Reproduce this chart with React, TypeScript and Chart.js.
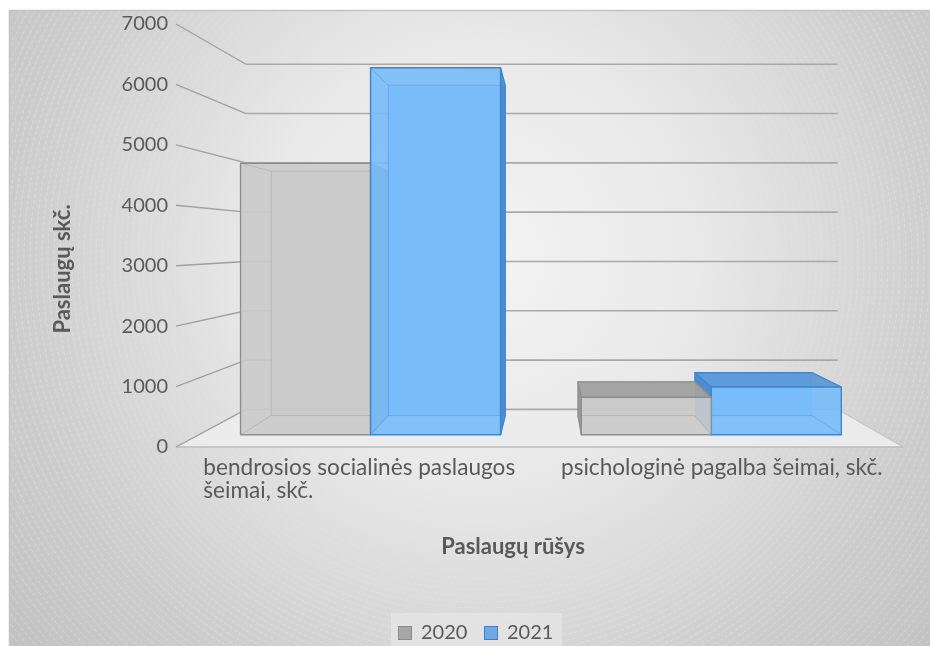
import { useEffect, useRef } from "react";
import { Chart, registerables } from "chart.js";

Chart.register(...registerables);

const CATEGORIES: string[][] = [
  ["bendrosios socialinės paslaugos", "šeimai, skč."],
  ["psichologinė pagalba šeimai, skč."],
];
const SERIES_LABELS = ["2020", "2021"];
const VALUES_2020 = [4780, 660];
const VALUES_2021 = [6460, 840];
const Y_MIN = 0;
const Y_MAX = 7000;
const Y_STEP = 1000;
const Y_TITLE = "Paslaugų skč.";
const X_TITLE = "Paslaugų rūšys";

const FONT = "Lato, 'Open Sans', sans-serif";
const TEXT = "#595959";

const STYLES = [
  { front: "rgba(202,202,202,0.9)", side: "rgba(150,150,150,0.92)", top: "rgba(162,162,162,0.92)", edge: "#8e8e8e", legend: "#a6a6a6", legendEdge: "#8a8a8a" },
  { front: "rgba(120,187,250,0.9)", side: "rgba(72,137,206,0.92)", top: "rgba(92,152,216,0.92)", edge: "#4085cc", legend: "#6fa8e2", legendEdge: "#3f80c4" },
];

const F_WALL = 0.816;
const F_FRONT = 0.94;
const F_BACK = 0.846;

const threeD = {
  id: "threeD",
  beforeDraw(chart: any) {
    const { ctx, width, height } = chart;
    ctx.save();
    ctx.fillStyle = "#ffffff";
    ctx.fillRect(0, 0, width, height);
    const cx = 480, cy = 260;
    const g = ctx.createRadialGradient(cx, cy, 0, cx, cy, 680);
    g.addColorStop(0, "#f3f3f3");
    g.addColorStop(0.32, "#e9e9e9");
    g.addColorStop(0.68, "#cdcdcd");
    g.addColorStop(1, "#bcbcbc");
    ctx.fillStyle = g;
    ctx.fillRect(9, 10, width - 9, height - 10);
    ctx.beginPath();
    ctx.rect(9, 10, width - 9, height - 10);
    ctx.clip();
    ctx.setLineDash([4, 2]);
    ctx.lineWidth = 0.7;
    for (let r = 240; r < 800; r += 6) {
      const a = Math.min(0.35, (r - 240) / 600);
      ctx.strokeStyle = `rgba(255,255,255,${a})`;
      ctx.beginPath();
      ctx.arc(cx, cy, r, 0, Math.PI * 2);
      ctx.stroke();
    }
    ctx.setLineDash([]);
    ctx.restore();
    ctx.save();
    ctx.strokeStyle = "#c4c4c4";
    ctx.lineWidth = 1.5;
    ctx.beginPath();
    ctx.moveTo(9.5, height);
    ctx.lineTo(9.5, 10.5);
    ctx.lineTo(width, 10.5);
    ctx.stroke();
    ctx.restore();
  },
  beforeDatasetsDraw(chart: any) {
    const { ctx, chartArea } = chart;
    const yScale = chart.scales.y;
    const L = chartArea.left, R = chartArea.right, T = chartArea.top, B = chartArea.bottom;
    const vx = L + 0.51 * (R - L);
    const vy = T + 0.517 * (B - T);
    const P = (x: number, y: number, f: number) => [vx + f * (x - vx), vy + f * (y - vy)];
    const poly = (pts: number[][], fill: string | null, stroke: string | null, lw = 1) => {
      ctx.beginPath();
      pts.forEach((p, i) => (i ? ctx.lineTo(p[0], p[1]) : ctx.moveTo(p[0], p[1])));
      ctx.closePath();
      if (fill) { ctx.fillStyle = fill; ctx.fill(); }
      if (stroke) { ctx.strokeStyle = stroke; ctx.lineWidth = lw; ctx.stroke(); }
    };
    const line = (a: number[], b: number[], color: string, lw: number) => {
      ctx.beginPath();
      ctx.moveTo(a[0], a[1]);
      ctx.lineTo(b[0], b[1]);
      ctx.strokeStyle = color;
      ctx.lineWidth = lw;
      ctx.stroke();
    };
    ctx.save();
    const y0 = yScale.getPixelForValue(0);
    poly([P(L, y0, 1), P(R, y0, 1), P(R, y0, F_WALL), P(L, y0, F_WALL)], "rgba(236,236,236,0.95)", null);
    line(P(L - 2, y0, 1), P(R, y0, 1), "#bdbdbd", 1.5);
    line(P(R, y0, 1), P(R, y0, F_WALL), "#c2c2c2", 1);
    yScale.ticks.forEach((t: any) => {
      const py = yScale.getPixelForValue(t.value);
      line(P(L, py, F_WALL), P(R, py, F_WALL), "#a9a9a9", 1.6);
      line([L - 2, py], P(L, py, F_WALL), "#a0a0a0", 1.4);
    });
    const bars: any[] = [];
    chart.data.datasets.forEach((ds: any, di: number) => {
      const meta = chart.getDatasetMeta(di);
      meta.data.forEach((el: any) => {
        const p = el.getProps(["x", "y", "base", "width"], true);
        bars.push({ ...p, style: STYLES[di] });
      });
    });
    bars.sort((a, b) => Math.abs(b.x - vx) - Math.abs(a.x - vx));
    bars.forEach((b) => {
      const l = b.x - b.width / 2, r = b.x + b.width / 2, top = b.y, bot = b.base;
      const s = b.style;
      const fTL = P(l, top, F_FRONT), fTR = P(r, top, F_FRONT), fBL = P(l, bot, F_FRONT), fBR = P(r, bot, F_FRONT);
      const bTL = P(l, top, F_BACK), bTR = P(r, top, F_BACK), bBL = P(l, bot, F_BACK), bBR = P(r, bot, F_BACK);
      ctx.lineJoin = "round";
      poly([bTL, bTR, bBR, bBL], s.front, null);
      if (r < vx) poly([fTR, bTR, bBR, fBR], s.side, s.edge, 1.2);
      if (l > vx) poly([fTL, bTL, bBL, fBL], s.side, s.edge, 1.2);
      if (top > vy) poly([fTL, fTR, bTR, bTL], s.top, s.edge, 1.2);
      poly([fTL, fTR, fBR, fBL], s.front, null);
      ctx.globalAlpha = 0.35;
      line(bTL, bTR, s.edge, 1);
      line(bTL, bBL, s.edge, 1);
      line(bBL, bBR, s.edge, 1);
      line(fTL, bTL, s.edge, 1);
      line(fBL, bBL, s.edge, 1);
      line(fTR, bTR, s.edge, 1);
      line(fBR, bBR, s.edge, 1);
      ctx.globalAlpha = 1;
      poly([fTL, fTR, fBR, fBL], null, s.edge, 1.4);
    });
    ctx.restore();
    return false;
  },
  afterDraw(chart: any) {
    const { ctx, chartArea } = chart;
    const xScale = chart.scales.x;
    ctx.save();
    ctx.fillStyle = TEXT;
    ctx.font = `22.6px ${FONT}`;
    ctx.textBaseline = "middle";
    ctx.textAlign = "left";
    CATEGORIES.forEach((lines, i) => {
      const cx = xScale.getPixelForValue(i);
      const w = Math.max(...lines.map((s) => ctx.measureText(s).width));
      lines.forEach((s, k) => ctx.fillText(s, cx - w / 2, chartArea.bottom + 21 + k * 23));
    });
    ctx.font = `bold 22px ${FONT}`;
    ctx.textAlign = "center";
    ctx.fillText(X_TITLE, 513, 547);
    ctx.save();
    ctx.translate(63, 269);
    ctx.rotate(-Math.PI / 2);
    ctx.fillText(Y_TITLE, 0, 0);
    ctx.restore();
    ctx.fillStyle = "rgba(228,228,228,0.85)";
    ctx.fillRect(391, 613, 171, 40);
    ctx.font = `20px ${FONT}`;
    ctx.textAlign = "left";
    const items = [398, 484];
    SERIES_LABELS.forEach((lab, i) => {
      const x = items[i];
      ctx.fillStyle = STYLES[i].legend;
      ctx.fillRect(x, 626, 14, 14);
      ctx.strokeStyle = STYLES[i].legendEdge;
      ctx.lineWidth = 1;
      ctx.strokeRect(x + 0.5, 626.5, 13, 13);
      ctx.fillStyle = TEXT;
      ctx.fillText(lab, x + 23, 633);
    });
    ctx.restore();
  },
};

export default function App() {
  const ref = useRef<HTMLCanvasElement | null>(null);
  useEffect(() => {
    if (!ref.current) return;
    const chart = new Chart(ref.current, {
      type: "bar",
      data: {
        labels: CATEGORIES.map((c) => c.join(" ")),
        datasets: [
          { label: SERIES_LABELS[0], data: VALUES_2020, backgroundColor: STYLES[0].legend },
          { label: SERIES_LABELS[1], data: VALUES_2021, backgroundColor: STYLES[1].legend },
        ],
      },
      options: {
        animation: false,
        responsive: false,
        layout: { padding: { left: 118, right: 27, top: 24, bottom: 199 } },
        plugins: { legend: { display: false }, tooltip: { enabled: false } },
        datasets: { bar: { categoryPercentage: 0.763, barPercentage: 1 } },
        scales: {
          x: { display: false },
          y: {
            min: Y_MIN,
            max: Y_MAX,
            ticks: {
              stepSize: Y_STEP,
              padding: 10,
              color: TEXT,
              font: { family: FONT, size: 20 },
              callback: (v: any) => String(v),
            },
            grid: { display: false, drawTicks: false },
            border: { display: false },
            afterFit: (s: any) => { s.width = 60; },
          },
        },
      },
      plugins: [threeD],
    });
    return () => chart.destroy();
  }, []);
  return (
    <div style={{ position: "absolute", left: 0, top: 0, width: 930, height: 646 }}>
      <canvas ref={ref} width={930} height={646} style={{ display: "block", width: 930, height: 646 }} />
    </div>
  );
}
